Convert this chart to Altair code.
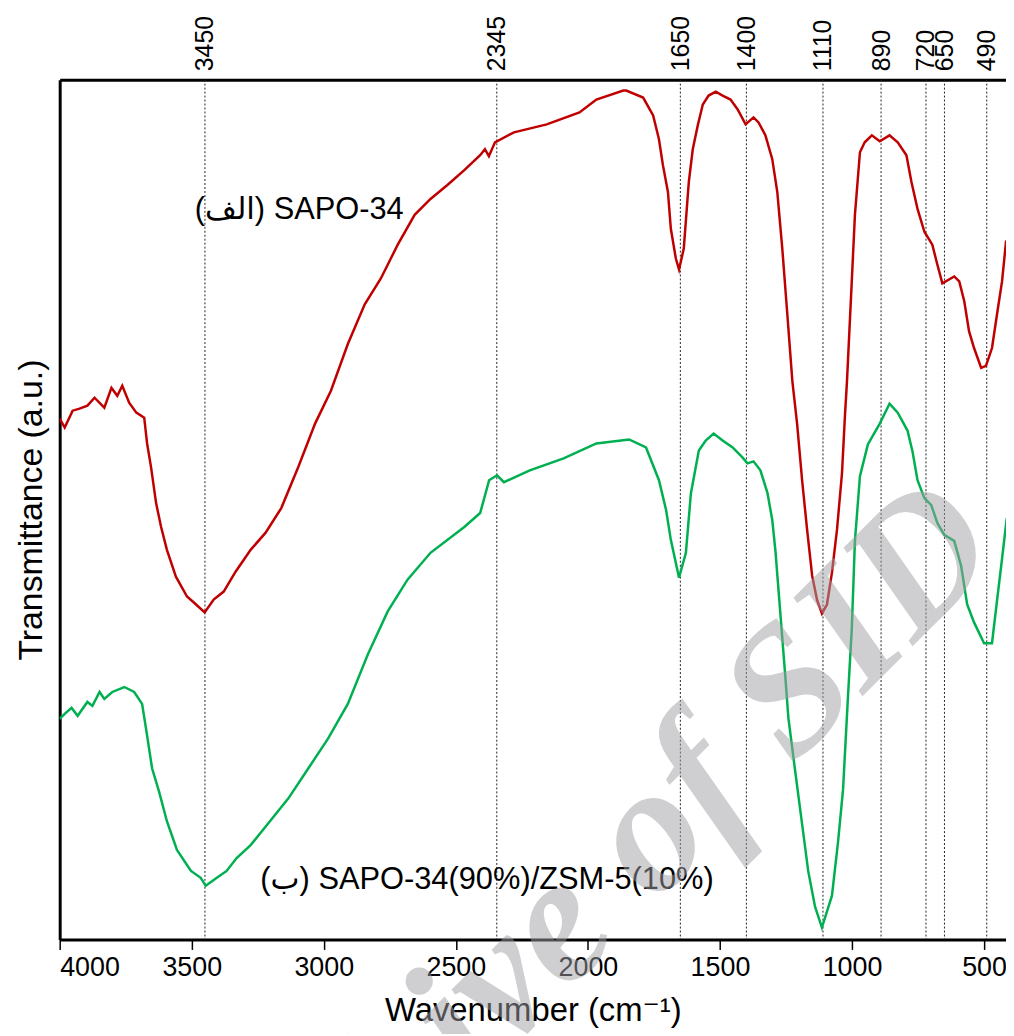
import altair as alt
import pandas as pd

# ---- data (wavenumber cm-1, transmittance a.u.) ----
red_wn = [4000, 3981, 3951, 3925, 3895, 3868, 3831, 3804, 3782, 3763, 3737, 3710, 3680, 3669,
          3654, 3635, 3616, 3594, 3560, 3518, 3492, 3451, 3417, 3379, 3334, 3277, 3221, 3161,
          3097, 3033, 2973, 2909, 2845, 2784, 2720, 2656, 2596, 2532, 2468, 2408, 2390, 2375,
          2352, 2280, 2156, 2032, 1968, 1866, 1855, 1791, 1753, 1731, 1716, 1697, 1686, 1667,
          1655, 1637, 1618, 1603, 1584, 1565, 1543, 1516, 1490, 1460, 1433, 1403, 1373, 1354,
          1328, 1302, 1283, 1264, 1245, 1226, 1208, 1189, 1170, 1151, 1132, 1114, 1095, 1076,
          1057, 1038, 1027, 1019, 1001, 989, 970, 952, 925, 895, 858, 827, 794, 775, 752, 726,
          696, 677, 658, 613, 594, 575, 557, 538, 511, 493, 470, 451, 432, 417, 410]
red_t = [524, 515, 532, 534, 537, 545, 535, 555, 547, 557, 540, 530, 525, 499,
         475, 439, 415, 392, 365, 345, 339, 329, 342, 350, 370, 392, 409, 434,
         475, 519, 552, 599, 639, 665, 699, 729, 745, 759, 774, 789, 795, 788,
         802, 812, 820, 832, 845, 854, 854, 847, 829, 805, 779, 752, 715, 685,
         674, 695, 762, 795, 819, 840, 849, 853, 849, 845, 835, 820, 827, 822,
         809, 785, 752, 695, 629, 562, 519, 462, 412, 366, 341, 328, 337, 369,
         412, 469, 526, 562, 662, 729, 792, 802, 809, 803, 809, 802, 789, 762, 735, 712,
         699, 679, 660, 667, 662, 642, 612, 595, 575, 577, 595, 629, 662, 702, 704]

green_wn = [4000, 3981, 3955, 3932, 3895, 3876, 3849, 3831, 3801, 3755, 3718, 3688, 3673, 3650,
            3624, 3594, 3556, 3503, 3466, 3447, 3405, 3368, 3330, 3277, 3210, 3134, 3059, 2984,
            2909, 2833, 2758, 2683, 2596, 2468, 2408, 2374, 2344, 2318, 2220, 2092, 1968, 1844,
            1780, 1731, 1704, 1686, 1655, 1629, 1610, 1580, 1554, 1524, 1490, 1452, 1415, 1396,
            1373, 1347, 1320, 1302, 1290, 1272, 1253, 1241, 1215, 1189, 1166, 1140, 1114, 1076,
            1053, 1034, 1016, 1001, 989, 970, 940, 895, 858, 827, 790, 771, 752, 726, 700, 677,
            651, 613, 587, 564, 538, 500, 470, 451, 432, 414]
green_t = [222, 227, 233, 225, 239, 235, 249, 242, 249, 254, 249, 237, 212, 172,
           149, 119, 90, 69, 62, 54, 62, 69, 82, 95, 117, 142, 172, 202,
           237, 287, 330, 362, 389, 415, 429, 462, 467, 460, 472, 484, 499, 503,
           495, 462, 432, 402, 364, 389, 449, 492, 502, 509, 502, 495, 485, 479,
           481, 472, 449, 422, 391, 330, 266, 223, 169, 116, 69, 33, 12, 44,
           98, 151, 241, 312, 401, 466, 498, 519, 539, 530, 512, 491, 462, 444, 437, 419,
           407, 401, 376, 337, 319, 298, 298, 341, 383, 424]

peak_wn = [3450, 2345, 1650, 1400, 1110, 890, 720, 650, 490]
tick_wn = [4000, 3500, 3000, 2500, 2000, 1500, 1000, 500]

series_names = ["SAPO-34", "SAPO-34(90%)/ZSM-5(10%)"]
series_colors = ["#C00000", "#00B050"]

label_text = ["(الف) SAPO-34", "(ب) SAPO-34(90%)/ZSM-5(10%)"]
label_wn = [3093, 2382]
label_t = [734, 60]

FONT = "Liberation Sans, Arial, DejaVu Sans"

rows = []
for w, t in zip(red_wn, red_t):
    rows.append({"wn": w, "t": t, "series": series_names[0]})
for w, t in zip(green_wn, green_t):
    rows.append({"wn": w, "t": t, "series": series_names[1]})
spec = pd.DataFrame(rows)
peaks = pd.DataFrame({"wn": peak_wn})
labels = pd.DataFrame({"wn": label_wn, "t": label_t, "txt": label_text})
wm = pd.DataFrame({"txt": ["Archive of SID"]})

x_scale = alt.Scale(domain=[417, 4000], reverse=True, nice=False, zero=False)
y_scale = alt.Scale(domain=[0, 865], nice=False, zero=False)

rules = alt.Chart(peaks).mark_rule(color="#222222", strokeWidth=1, strokeDash=[2, 2]).encode(
    x=alt.X("wn:Q", scale=x_scale,
            axis=alt.Axis(orient="top", values=peak_wn, format="d", labelAngle=270,
                          labelFontSize=25, labelPadding=9, ticks=False, labelOverlap=False,
                          labelBound=False, domainWidth=3, title="", labelFont=FONT))
)

lines = alt.Chart(spec).mark_line(strokeWidth=2.5, clip=True).encode(
    x=alt.X("wn:Q", scale=x_scale,
            axis=alt.Axis(orient="bottom", values=tick_wn, format="d",
                          labelFontSize=27, labelPadding=5, tickSize=10, tickWidth=1.5,
                          labelOverlap=False, domainWidth=3, title="Wavenumber (cm⁻¹)",
                          titleFontSize=33, titlePadding=15, titleFontWeight="normal",
                          labelFont=FONT, titleFont=FONT)),
    y=alt.Y("t:Q", scale=y_scale,
            axis=alt.Axis(orient="left", labels=False, ticks=False, domainWidth=3,
                          title="Transmittance (a.u.)", titleFontSize=34, titlePadding=11,
                          titleFontWeight="normal", titleFont=FONT)),
    color=alt.Color("series:N", scale=alt.Scale(domain=series_names, range=series_colors),
                    legend=None),
)

texts = alt.Chart(labels).mark_text(fontSize=31, font=FONT, color="black",
                                    align="center", baseline="middle").encode(
    x=alt.X("wn:Q", scale=x_scale, axis=None),
    y=alt.Y("t:Q", scale=y_scale, axis=None),
    text="txt:N",
)

watermark = alt.Chart(wm).mark_text(
    fontSize=182, font="Liberation Serif", fontStyle="italic", fontWeight="bold",
    color="#a0a0a6", opacity=0.5, angle=315, align="right", baseline="alphabetic"
).encode(
    x=alt.value(952), y=alt.value(476), text="txt:N"
)

chart = alt.layer(rules, lines, texts, watermark).resolve_axis(
    x="independent", y="independent"
).properties(
    width=952, height=865,
    autosize=alt.AutoSizeParams(type="none"),
    padding={"left": 52, "top": 69, "right": 0, "bottom": 92},
).configure_axis(
    grid=False, domainColor="black", tickColor="black", labelColor="black",
    titleColor="black"
).configure_view(strokeWidth=0)

chart.save("out.html", embed_options={"renderer": "svg", "actions": False})
